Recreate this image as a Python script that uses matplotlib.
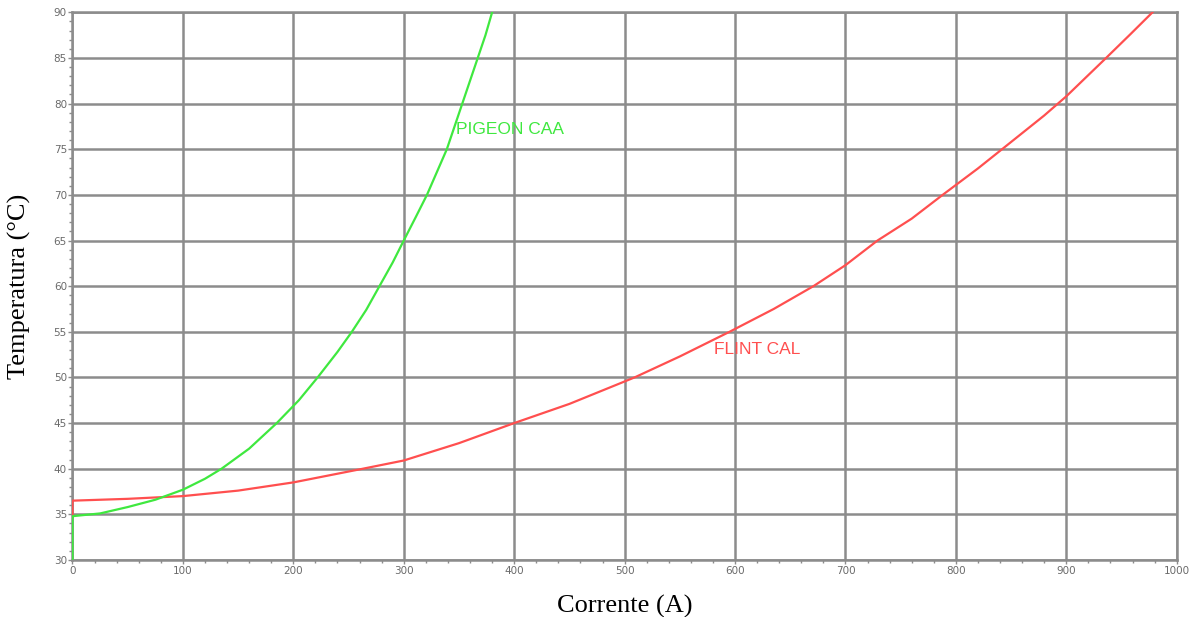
import matplotlib
matplotlib.use("Agg")
import matplotlib.pyplot as plt
from matplotlib.ticker import MultipleLocator

# PIGEON CAA curve
pigeon_i = [0, 0, 25, 50, 75, 100, 120, 135, 160, 185, 205, 222, 240, 253, 266,
            278, 290, 300, 311, 321, 330, 339, 346, 353, 360, 367, 374, 380]
pigeon_t = [30, 34.8, 35.1, 35.8, 36.6, 37.7, 38.9, 40, 42.2, 45, 47.5, 50, 52.8, 55, 57.4,
            60, 62.6, 65, 67.6, 70, 72.5, 75, 77.5, 80, 82.5, 85, 87.5, 90]

# FLINT CAL curve
flint_i = [0, 0, 50, 100, 150, 200, 263, 300, 350, 400, 450, 509, 550, 595,
           635, 671, 700, 729, 760, 788, 820, 849, 880, 900, 936, 958, 978]
flint_t = [34.8, 36.5, 36.7, 37.0, 37.6, 38.5, 40, 40.9, 42.8, 45, 47.1, 50, 52.3, 55,
           57.5, 60, 62.3, 65, 67.4, 70, 72.9, 75.7, 78.7, 80.8, 85, 87.6, 90]

labels = ["PIGEON CAA", "FLINT CAL"]
label_pos = [(347, 77.2), (581, 53.1)]

green = "#3fe83f"
red = "#ff4f4f"
gridc = "#8c8c8c"

fig = plt.figure(figsize=(11.92, 6.17), dpi=100)
ax = fig.add_axes([0.0608, 0.0924, 0.9264, 0.8876])

ax.plot(flint_i, flint_t, color=red, lw=1.6, zorder=3)
ax.plot(pigeon_i, pigeon_t, color=green, lw=1.6, zorder=4)

ax.text(label_pos[0][0], label_pos[0][1], labels[0], color=green, fontsize=12.5,
        family="Liberation Sans", va="center", ha="left")
ax.text(label_pos[1][0], label_pos[1][1], labels[1], color=red, fontsize=12.5,
        family="Liberation Sans", va="center", ha="left")

ax.set_xlim(0, 1000)
ax.set_ylim(30, 90)
ax.xaxis.set_major_locator(MultipleLocator(100))
ax.xaxis.set_minor_locator(MultipleLocator(20))
ax.yaxis.set_major_locator(MultipleLocator(5))
ax.yaxis.set_minor_locator(MultipleLocator(1))
ax.grid(True, which="major", color=gridc, lw=1.8)

for s in ax.spines.values():
    s.set_color(gridc)
    s.set_linewidth(1.8)

ax.tick_params(which="both", direction="out", color=gridc, labelcolor="#6a6a6a",
               labelsize=7.5, pad=1)
ax.tick_params(which="major", length=3, width=1)
ax.tick_params(which="minor", length=2.5, width=1)

ax.set_xlabel("Corrente (A)", family="Liberation Serif", fontsize=19, labelpad=14)
ax.set_ylabel("Temperatura (°C)", family="Liberation Serif", fontsize=19, labelpad=16)

fig.savefig("out.png", dpi=100)
